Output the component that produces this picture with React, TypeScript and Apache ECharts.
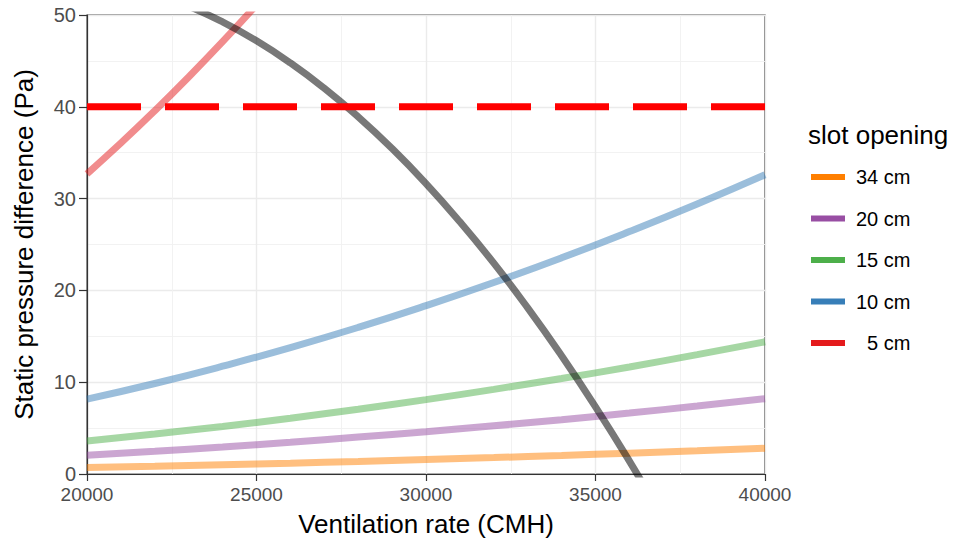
import React, { useEffect, useRef } from "react";
import * as echarts from "echarts";

// Ventilation rate (CMH) sample points for the slot-opening curves
const ventilation = [20000, 22000, 24000, 26000, 28000, 30000, 32000, 34000, 36000, 38000, 40000];
const slot34 = [0.7, 0.85, 1.01, 1.18, 1.37, 1.58, 1.79, 2.02, 2.27, 2.53, 2.8];
const slot20 = [2.05, 2.48, 2.95, 3.46, 4.02, 4.61, 5.25, 5.92, 6.64, 7.4, 8.2];
const slot15 = [3.6, 4.36, 5.18, 6.08, 7.06, 8.1, 9.22, 10.4, 11.66, 13.0, 14.4];
const slot10 = [8.15, 9.86, 11.74, 13.77, 15.97, 18.34, 20.86, 23.55, 26.41, 29.42, 32.6];
const ventilation5 = [20000, 21000, 22000, 23000, 24000, 25000];
const slot5 = [32.7, 36.05, 39.57, 43.25, 47.09, 51.1];

// Fan curve (grey)
const fanX = [22000, 23000, 24000, 25000, 26000, 27000, 28000, 29000, 30000, 31000, 32000, 33000, 34000, 35000, 36000, 37000];
const fanY = [52.3, 50.95, 49.24, 47.19, 44.78, 42.02, 38.91, 35.45, 31.64, 27.47, 22.97, 18.1, 12.88, 7.32, 1.4, -4.87];

const limitValue = 40;
const xTicks = [20000, 25000, 30000, 35000, 40000];
const yTicks = [0, 10, 20, 30, 40, 50];

const seriesNames = ["34 cm", "20 cm", "15 cm", "10 cm", "5 cm"];
const seriesColors = ["#FF7F00", "#984EA3", "#4DAF4A", "#377EB8", "#E41A1C"];

function hexAlpha(hex: string, a: number) {
  const r = parseInt(hex.slice(1, 3), 16);
  const g = parseInt(hex.slice(3, 5), 16);
  const b = parseInt(hex.slice(5, 7), 16);
  return `rgba(${r},${g},${b},${a})`;
}

export default function App() {
  const ref = useRef<HTMLDivElement>(null);
  useEffect(() => {
    if (!ref.current) return;
    const chart = echarts.init(ref.current, undefined, { renderer: "svg" });
    const font = "Liberation Sans, Arial, sans-serif";
    const curves = [
      { name: seriesNames[0], x: ventilation, y: slot34, c: seriesColors[0] },
      { name: seriesNames[1], x: ventilation, y: slot20, c: seriesColors[1] },
      { name: seriesNames[2], x: ventilation, y: slot15, c: seriesColors[2] },
      { name: seriesNames[3], x: ventilation, y: slot10, c: seriesColors[3] },
      { name: seriesNames[4], x: ventilation5, y: slot5, c: seriesColors[4] },
    ];
    const lineSeries: any[] = curves.map((cv) => ({
      name: cv.name,
      type: "line",
      data: cv.x.map((x, i) => [x, cv.y[i]]),
      smooth: true,
      showSymbol: false,
      symbol: "none",
      clip: true,
      itemStyle: { color: hexAlpha(cv.c, 0.5) },
      lineStyle: { width: 7, color: hexAlpha(cv.c, 0.5), type: "solid" },
      z: 2,
    }));
    lineSeries.push({
      name: "fan",
      type: "line",
      data: fanX.map((x, i) => [x, fanY[i]]),
      smooth: true,
      showSymbol: false,
      symbol: "none",
      clip: true,
      lineStyle: { width: 7, color: "rgba(0,0,0,0.53)" },
      itemStyle: { color: "rgba(0,0,0,0.53)" },
      z: 3,
    });
    lineSeries.push({
      name: "limit",
      type: "line",
      data: [
        [xTicks[0], limitValue],
        [xTicks[xTicks.length - 1], limitValue],
      ],
      showSymbol: false,
      symbol: "none",
      lineStyle: { width: 7, color: "#FF0000", type: [54, 24], cap: "butt" },
      itemStyle: { color: "#FF0000" },
      z: 4,
    });

    // Legend keys drawn as graphic elements (built from the series arrays)
    const legendTop = 177;
    const legendStep = 41.5;
    const legendGraphics: any[] = [];
    seriesNames.forEach((n, i) => {
      const cy = legendTop + i * legendStep;
      legendGraphics.push({
        type: "line",
        shape: { x1: 811, y1: cy, x2: 845, y2: cy },
        style: { stroke: seriesColors[i], lineWidth: 6, lineDash: [40, 0], lineCap: "butt" },
        silent: true,
        z: 10,
      });
      legendGraphics.push({
        type: "text",
        x: n.length < 5 ? 867 : 856,
        y: cy,
        style: {
          text: n,
          fontSize: 20,
          fill: "#000000",
          fontFamily: font,
          verticalAlign: "middle",
          align: "left",
        },
        silent: true,
        z: 10,
      });
    });

    chart.setOption({
      animation: false,
      backgroundColor: "#ffffff",
      textStyle: { fontFamily: font },
      title: {
        text: "slot opening",
        left: 803,
        top: 117,
        textStyle: { fontSize: 26, fontWeight: "normal", color: "#000000", fontFamily: font },
      },
      graphic: legendGraphics,
      grid: {
        left: 87,
        right: 194,
        top: 15,
        bottom: 72,
        show: true,
        borderColor: "#333333",
        borderWidth: 1.2,
        containLabel: false,
      },
      xAxis: {
        type: "value",
        min: xTicks[0],
        max: xTicks[xTicks.length - 1],
        interval: 5000,
        name: "Ventilation rate (CMH)",
        nameLocation: "middle",
        nameGap: 37,
        nameTextStyle: { fontSize: 26, color: "#000000", fontFamily: font },
        axisLine: { show: true, lineStyle: { color: "#333333", width: 1.2 } },
        axisTick: { show: true, length: 7, lineStyle: { color: "#333333", width: 1.2 } },
        axisLabel: {
          fontSize: 19,
          color: "#4D4D4D",
          margin: 11,
          fontFamily: font,
          formatter: (v: number) => String(v),
        },
        splitLine: { show: true, lineStyle: { color: "#EBEBEB", width: 1.4 } },
        minorTick: { show: false, splitNumber: 2 },
        minorSplitLine: { show: true, lineStyle: { color: "#F0F0F0", width: 0.9 } },
      },
      yAxis: {
        type: "value",
        min: yTicks[0],
        max: yTicks[yTicks.length - 1],
        interval: 10,
        name: "Static pressure difference (Pa)",
        nameLocation: "middle",
        nameRotate: 90,
        nameGap: 50,
        nameTextStyle: { fontSize: 26, color: "#000000", fontFamily: font },
        axisLine: { show: true, lineStyle: { color: "#333333", width: 1.2 } },
        axisTick: { show: true, length: 8, lineStyle: { color: "#333333", width: 1.2 } },
        axisLabel: { fontSize: 20, color: "#4D4D4D", margin: 11, fontFamily: font },
        splitLine: { show: true, lineStyle: { color: "#EBEBEB", width: 1.4 } },
        minorTick: { show: false, splitNumber: 2 },
        minorSplitLine: { show: true, lineStyle: { color: "#F0F0F0", width: 0.9 } },
      },
      series: lineSeries,
    });
    return () => chart.dispose();
  }, []);
  return (
    <div
      ref={ref}
      style={{ position: "fixed", left: 0, top: 0, width: 959, height: 546 }}
    />
  );
}
